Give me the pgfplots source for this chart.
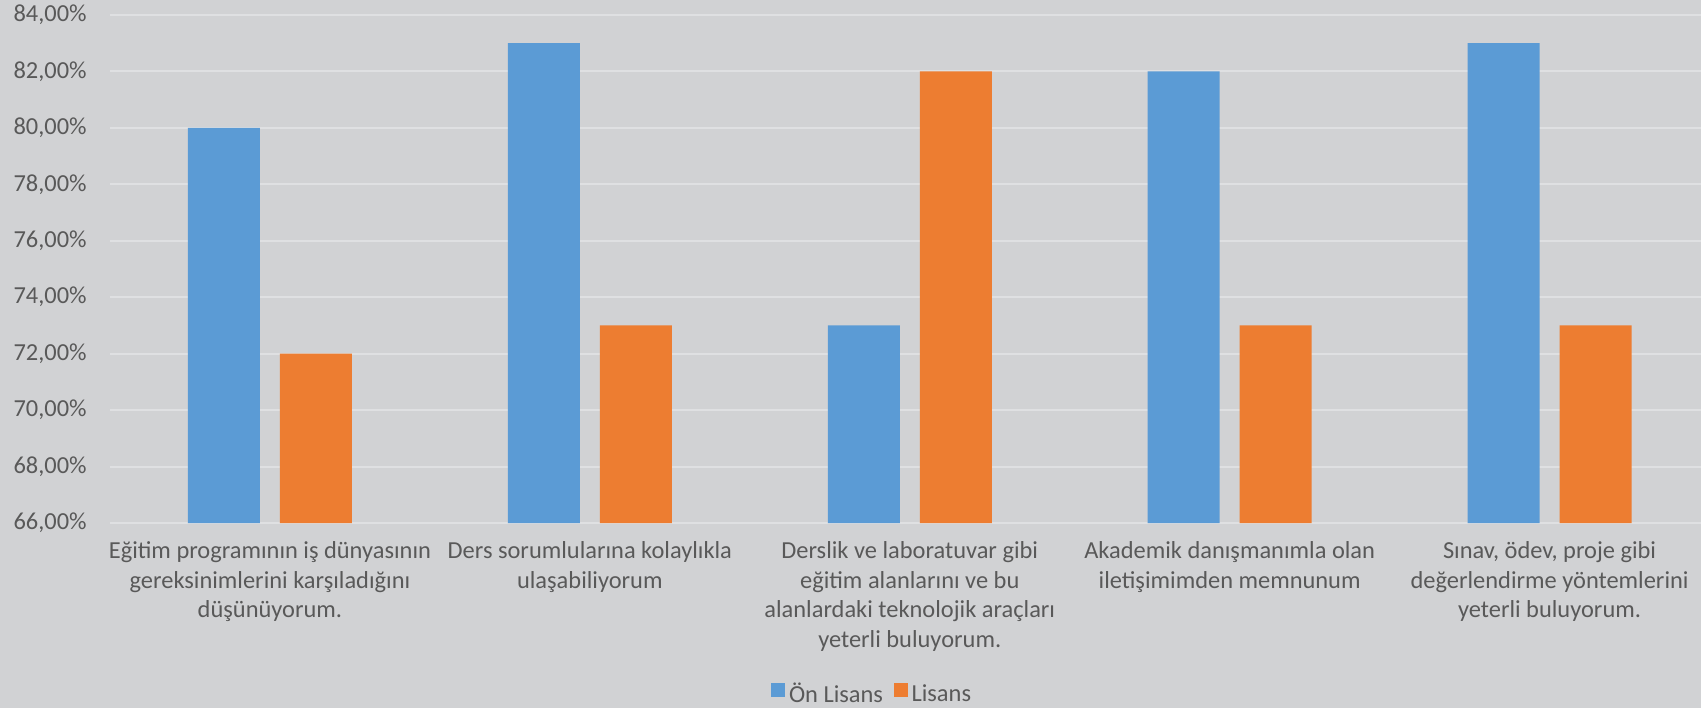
\documentclass[border=0pt]{standalone}
\usepackage{fontspec}
\setmainfont{Carlito}
\usepackage{pgfplots}
\pgfplotsset{compat=1.18}

\definecolor{bg}{HTML}{D1D2D4}
\definecolor{gridc}{HTML}{DFE0E2}
\definecolor{txt}{HTML}{595959}
\definecolor{onl}{HTML}{5B9BD5}
\definecolor{lis}{HTML}{ED7D31}

\newcommand{\chartfont}{\fontsize{13.9}{16.8}\selectfont}

\begin{document}
\begin{tikzpicture}
\path[use as bounding box, fill=bg] (-22mm,-37mm) rectangle (318.2mm,104.6mm);
\begin{axis}[
    at={(0mm,0mm)}, anchor=south west,
    scale only axis, width=318.2mm, height=101.6mm,
    ybar, bar width=14.4mm,
    xmin=-0.5, xmax=4.4734, ymin=66, ymax=84,
    ytick={66,68,...,84},
    xtick={0,...,4},
    xticklabels={
        {Eğitim programının iş dünyasının\\gereksinimlerini karşıladığını\\düşünüyorum.},
        {Ders sorumlularına kolaylıkla\\ulaşabiliyorum},
        {Derslik ve laboratuvar gibi\\eğitim alanlarını ve bu\\alanlardaki teknolojik araçları\\yeterli buluyorum.},
        {Akademik danışmanımla olan\\iletişimimden memnunum},
        {Sınav, ödev, proje gibi\\değerlendirme yöntemlerini\\yeterli buluyorum.}
    },
    /pgf/number format/assume math mode=true,
    yticklabel={\pgfmathprintnumber[fixed,fixed zerofill,precision=2,use comma]{\tick}\%},
    axis line style={draw=none},
    major tick length=0pt,
    ymajorgrids, grid style={gridc, line width=0.4mm},
    ticklabel style={font=\chartfont, text=txt},
    xticklabel style={anchor=north, align=center, inner sep=0pt, yshift=-3.7mm},
    yticklabel style={anchor=east, inner sep=0pt, xshift=-4.6mm},
    legend style={at={(0.4796,-0.3366)}, anchor=center, draw=none, fill=none,
        font=\chartfont, text=txt, legend columns=2,
        /tikz/every even column/.append style={column sep=1.5mm}},
    legend image code/.code={\fill[#1] (0mm,-0.6mm) rectangle (2.8mm,2.2mm);},
]
\addplot[fill=onl, draw=none, bar shift=-9.2mm] coordinates {(0,80) (1,83) (2,73) (3,82) (4,83)};
\addlegendentry{Ön Lisans}
\addplot[fill=lis, draw=none, bar shift=9.2mm] coordinates {(0,72) (1,73) (2,82) (3,73) (4,73)};
\addlegendentry{Lisans}
\end{axis}
\end{tikzpicture}
\end{document}
